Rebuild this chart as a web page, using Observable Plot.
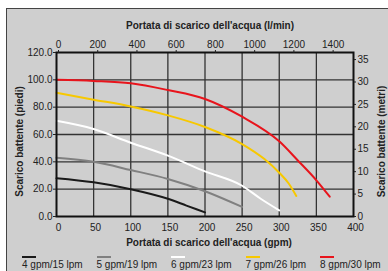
<!DOCTYPE html>
<html><head><meta charset="utf-8">
<script src="https://cdn.jsdelivr.net/npm/d3@7"></script>
<script src="https://cdn.jsdelivr.net/npm/@observablehq/plot@0.6"></script>
<style>
html,body{margin:0;padding:0;background:#fff;}
#bg{position:absolute;left:6px;top:8px;width:382px;height:263px;background:#cfcfcf;border-left:1.5px solid #444;border-top:1.5px solid #444;box-sizing:border-box;}
#chart{position:absolute;left:0;top:0;}
#legend{position:absolute;left:22px;top:255.5px;display:flex;font:10px "Liberation Sans",Arial,sans-serif;color:#222;line-height:11px;}
.item{width:74.5px;}
.sw{width:14px;height:2.5px;margin-bottom:1.3px;}
</style></head><body>
<div id="bg"></div><div id="chart"></div><div id="legend"></div>
<script>
const seriesNames = ["4 gpm/15 lpm", "5 gpm/19 lpm", "6 gpm/23 lpm", "7 gpm/26 lpm", "8 gpm/30 lpm"];
const seriesColors = ["#1a1a1a", "#808080", "#ffffff", "#f7c800", "#e8141c"];

const flow4 = [0, 50, 100, 150, 175, 200];
const head4 = [28, 25, 20, 13, 8, 3];
const flow5 = [0, 50, 100, 150, 200, 250];
const head5 = [43, 40, 34, 27.5, 18.5, 7];
const flow6 = [0, 50, 100, 150, 200, 250, 275, 300];
const head6 = [70, 64, 54, 44.5, 33, 22.5, 13, 4.5];
const flow7 = [0, 50, 100, 150, 200, 250, 280, 300, 313, 323];
const head7 = [90.5, 85.5, 80.5, 74, 65.5, 53, 42, 32, 24, 15];
const flow8 = [0, 50, 100, 150, 200, 250, 300, 325, 350, 368];
const head8 = [100, 99.2, 97.5, 92.5, 86, 73, 55, 41, 26.5, 14.5];

const gpmTicks = [0, 50, 100, 150, 200, 250, 300, 350, 400];
const lminTicks = [0, 200, 400, 600, 800, 1000, 1200, 1400];
const ftTicks = [0, 20, 40, 60, 80, 100, 120];
const mTicks = [0, 5, 10, 15, 20, 25, 30, 35];
const gpmGrid = [50, 100, 150, 200, 250, 300, 350];
const ftGrid = [20, 40, 60, 80, 100];

const topTitle = "Portata di scarico dell'acqua (l/min)";
const bottomTitle = "Portata di scarico dell'acqua (gpm)";
const leftTitle = "Scarico battente (piedi)";
const rightTitle = "Scarico battente (metri)";

const flows = [flow4, flow5, flow6, flow7, flow8];
const heads = [head4, head5, head6, head7, head8];
const rows = [];
seriesNames.forEach((s, i) => flows[i].forEach((g, j) => rows.push({series: s, gpm: g, ft: heads[i][j]})));

const GPM_TO_LMIN = 3.785;
const FT_TO_M = 0.3048;
const gridStyle = {stroke: "#333", strokeOpacity: 1, strokeWidth: 1.3};
const titleStyle = {text: d => d, fontWeight: "bold", fontSize: 10, textAnchor: "middle", lineAnchor: "middle"};

const chart = Plot.plot({
  width: 388, height: 248,
  marginLeft: 56, marginRight: 35, marginTop: 52, marginBottom: 32,
  style: {background: "transparent", fontFamily: "'Liberation Sans', Arial, sans-serif", fontSize: "10px", color: "#222"},
  x: {domain: [0, 400]},
  y: {domain: [0, 120]},
  color: {domain: seriesNames, range: seriesColors},
  marks: [
    Plot.gridX(gpmGrid, gridStyle),
    Plot.gridY(ftGrid, gridStyle),
    Plot.line(rows, {x: "gpm", y: "ft", z: "series", stroke: "series", strokeWidth: 2, curve: "monotone-x"}),
    Plot.frame({stroke: "#111", strokeWidth: 2}),
    Plot.axisX(gpmTicks, {anchor: "bottom", tickSize: 0, tickPadding: 7, label: null, dx: 2}),
    Plot.axisX(lminTicks.map(v => v / GPM_TO_LMIN), {anchor: "top", tickSize: 3, tickPadding: 2, tickFormat: d => String(Math.round(d * GPM_TO_LMIN)), label: null, dx: 2}),
    Plot.axisY(ftTicks, {anchor: "left", tickSize: 3, tickPadding: 1, tickFormat: d => d.toFixed(1), label: null}),
    Plot.axisY(mTicks.map(m => m / FT_TO_M), {anchor: "right", tickSize: 2, tickPadding: 2, tickFormat: d => String(Math.round(d * FT_TO_M)), label: null}),
    Plot.text([topTitle], {...titleStyle, frameAnchor: "top", dy: -27, dx: 5}),
    Plot.text([bottomTitle], {...titleStyle, frameAnchor: "bottom", dy: 26, dx: 4}),
    Plot.text([leftTitle], {...titleStyle, frameAnchor: "left", dx: -37, dy: 7, rotate: -90}),
    Plot.text([rightTitle], {...titleStyle, frameAnchor: "right", dx: 28, dy: 7, rotate: -90})
  ]
});
document.getElementById("chart").appendChild(chart);

const legend = document.getElementById("legend");
seriesNames.forEach((s, i) => {
  const item = document.createElement("div");
  item.className = "item";
  const sw = document.createElement("div");
  sw.className = "sw";
  sw.style.background = seriesColors[i];
  const lab = document.createElement("div");
  lab.textContent = s;
  item.appendChild(sw);
  item.appendChild(lab);
  legend.appendChild(item);
});
</script>
</body></html>
